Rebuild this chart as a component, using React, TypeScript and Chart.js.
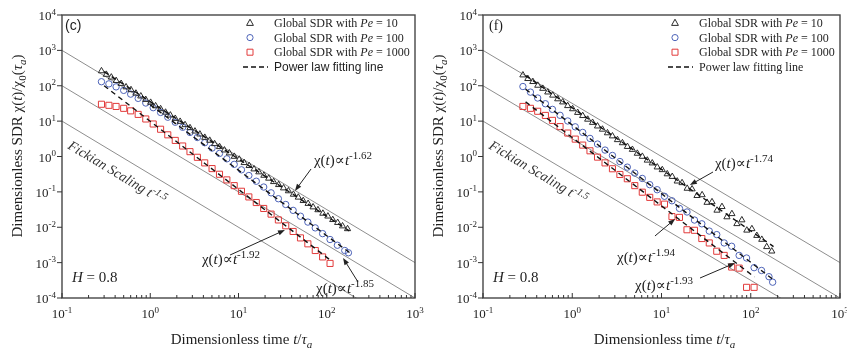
import React, { useEffect, useRef } from "react";
import { Chart, registerables } from "chart.js";

Chart.register(...registerables);

const SERIF = '"Liberation Serif", "DejaVu Serif", "Times New Roman", serif';
const SANS = '"Liberation Sans", Arial, sans-serif';

// ---------- time samples (dimensionless time t / tau_a) ----------
const T_DENSE = [
  0.28, 0.318, 0.362, 0.411, 0.468, 0.532, 0.605, 0.688, 0.782, 0.889, 1.01, 1.15, 1.31, 1.49, 1.69,
  1.92, 2.18, 2.48, 2.82, 3.21, 3.65, 4.15, 4.72, 5.36, 6.1, 6.93, 7.88, 8.96, 10.2, 11.6, 13.2, 15.0,
  17.0, 19.4, 22.0, 25.0, 28.5, 32.4, 36.8, 41.9, 47.6, 54.1, 61.5, 70.0, 79.5, 90.4, 103, 117, 133,
  151, 172,
];
const T_SPARSE = [
  0.28, 0.34, 0.41, 0.5, 0.6, 0.73, 0.89, 1.08, 1.31, 1.58, 1.92, 2.33, 2.82, 3.42, 4.14, 5.02, 6.09,
  7.38, 8.94, 10.8, 13.1, 15.9, 19.3, 23.4, 28.3, 34.3, 41.6, 50.4, 61.1, 74.1, 89.8, 109, 132, 160, 176,
];

// ---------- panel (c) ----------
const C_PE10 = [
  262, 208, 174, 139, 115, 92, 76.5, 61, 50.8, 40.5, 33.6, 26.8, 22.2, 17.7, 14.7, 11.8, 9.75, 7.85,
  6.45, 5.18, 4.27, 3.44, 2.84, 2.28, 1.88, 1.51, 1.25, 1.0, 0.83, 0.665, 0.548, 0.44, 0.364, 0.291,
  0.241, 0.193, 0.159, 0.128, 0.106, 0.0848, 0.0702, 0.0562, 0.0466, 0.0372, 0.0309, 0.0246, 0.0205,
  0.0163, 0.0135, 0.0108, 0.009,
];
const C_PE100 = [
  130, 113, 93, 74, 58, 44, 32.5, 24, 17.6, 12.9, 9.3, 6.7, 4.8, 3.45, 2.45, 1.73, 1.22, 0.86, 0.6,
  0.42, 0.29, 0.2, 0.137, 0.094, 0.064, 0.044, 0.03, 0.0205, 0.014, 0.0096, 0.0066, 0.0045, 0.0031,
  0.0022, 0.0019,
];
const C_PE1000 = [
  30, 28, 26, 23, 19.5, 15.5, 11.5, 8.3, 5.9, 4.1, 2.85, 1.98, 1.37, 0.95, 0.66, 0.455, 0.315, 0.218,
  0.15, 0.104, 0.072, 0.05, 0.034, 0.0235, 0.0161, 0.011, 0.0076, 0.005, 0.0034, 0.0022, 0.00145,
  0.00095,
];
const C_FIT_T10 = [0.3, 180];
const C_FIT_Y10 = [250, 0.0079];
const C_FIT_T100 = [1, 190];
const C_FIT_Y100 = [28.9, 0.00176];
const C_FIT_T1000 = [0.3, 110];
const C_FIT_Y1000 = [100, 0.00117];

// ---------- panel (f) ----------
const F_PE10 = [
  200, 158, 130, 102, 83.5, 65.8, 53.6, 42.2, 34.5, 27.1, 22.1, 17.4, 14.2, 11.2, 9.1, 7.2, 5.85, 4.62,
  3.78, 2.96, 2.42, 1.9, 1.57, 1.22, 1.0, 0.78, 0.65, 0.5, 0.42, 0.32, 0.27, 0.2, 0.18, 0.125, 0.12,
  0.078, 0.082, 0.05, 0.052, 0.03, 0.038, 0.0195, 0.024, 0.0125, 0.016, 0.0082, 0.009, 0.0058, 0.0045,
  0.0028, 0.0021,
];
const F_PE100 = [
  95, 66, 45, 31, 21.5, 14.6, 10.1, 6.9, 4.8, 3.25, 2.25, 1.52, 1.07, 0.72, 0.5, 0.34, 0.24, 0.16,
  0.115, 0.075, 0.056, 0.034, 0.027, 0.016, 0.0125, 0.0078, 0.0062, 0.0036, 0.0029, 0.0016, 0.00135,
  0.00072, 0.0006, 0.0004, 0.00028,
];
const F_PE1000 = [
  26, 23, 19, 14.5, 10.5, 7.0, 4.6, 3.1, 2.1, 1.45, 0.96, 0.66, 0.45, 0.31, 0.235, 0.15, 0.098, 0.07,
  0.052, 0.045, 0.02, 0.019, 0.0085, 0.0082, 0.0048, 0.0036, 0.0021, 0.0016, 0.00075, 0.0007, 0.0002,
  0.0002,
];
const F_FIT_T10 = [0.3, 180];
const F_FIT_Y10 = [194, 0.00284];
const F_FIT_T100 = [0.3, 180];
const F_FIT_Y100 = [80, 0.000327];
const F_FIT_T1000 = [0.3, 110];
const F_FIT_Y1000 = [35, 0.000393];

// ---------- Fickian t^-1.5 reference lines ----------
const REF_T = [0.1, 1000];
const REF_Y_HI = [1000, 0.001];
const REF_Y_MID = [100, 0.0001];
const REF_Y_LO = [10, 0.00001];

// ---------- axis ticks ----------
const X_TICKS = [0.1, 1, 10, 100, 1000];
const X_TICK_EXP = ["-1", "0", "1", "2", "3"];
const Y_TICKS = [1e-4, 1e-3, 1e-2, 1e-1, 1, 10, 100, 1000, 10000];
const Y_TICK_EXP = ["-4", "-3", "-2", "-1", "0", "1", "2", "3", "4"];

const LEGEND_PE = ["10", "100", "1000"];

// annotations: text anchor (data coords) and arrow (tail -> head)
const C_NOTES = [
  { exp: "-1.62", t: [71.6, 0.575], from: [66.4, 0.444], to: [43.6, 0.106] },
  { exp: "-1.92", t: [3.85, 0.000914], from: [8.02, 0.00164], to: [33.6, 0.00835] },
  { exp: "-1.85", t: [75.5, 0.000138], from: [226, 0.000283], to: [153, 0.00135] },
];
const F_NOTES = [
  { exp: "-1.74", t: [39.7, 0.473], from: [37.8, 0.365], to: [20.8, 0.156] },
  { exp: "-1.94", t: [3.17, 0.00104], from: [8.45, 0.00566], to: [14.2, 0.0171] },
  { exp: "-1.93", t: [5.05, 0.000168], from: [27, 0.000367], to: [66.7, 0.000975] },
];
const FICK_ANCHOR = [0.114, 1.74];

const COL_TRI = "#2b2b2b";
const COL_CIR = "#4d63b8";
const COL_SQ = "#e23a3a";
const COL_REF = "#8e8e8e";
const COL_TXT = "#1e1e1e";

type Seg = { s: string; it?: boolean; sup?: boolean; sub?: boolean };

function segWidth(ctx: any, segs: Seg[], size: number, fam: string) {
  let w = 0;
  for (const g of segs) {
    const fs = g.sup || g.sub ? Math.round(size * 0.72) : size;
    ctx.font = `${g.it ? "italic " : ""}${fs}px ${fam}`;
    w += ctx.measureText(g.s).width;
  }
  return w;
}
function drawSegs(ctx: any, segs: Seg[], x: number, y: number, size: number, fam: string) {
  let cx = x;
  for (const g of segs) {
    const fs = g.sup || g.sub ? Math.round(size * 0.72) : size;
    ctx.font = `${g.it ? "italic " : ""}${fs}px ${fam}`;
    const dy = g.sup ? -size * 0.42 : g.sub ? size * 0.28 : 0;
    ctx.fillText(g.s, cx, y + dy);
    cx += ctx.measureText(g.s).width;
  }
  return cx - x;
}

function drawMarker(ctx: any, kind: string, x: number, y: number) {
  ctx.beginPath();
  if (kind === "tri") {
    ctx.moveTo(x, y - 3.8);
    ctx.lineTo(x + 3.4, y + 2.4);
    ctx.lineTo(x - 3.4, y + 2.4);
    ctx.closePath();
    ctx.strokeStyle = COL_TRI;
  } else if (kind === "cir") {
    ctx.arc(x, y, 3.1, 0, Math.PI * 2);
    ctx.strokeStyle = COL_CIR;
  } else {
    ctx.rect(x - 3, y - 3, 6, 6);
    ctx.strokeStyle = COL_SQ;
  }
  ctx.lineWidth = 1;
  ctx.stroke();
}

const pts = (t: number[], y: number[]) => y.map((v, i) => ({ x: t[i], y: v }));

function buildConfig(p: any) {
  const fitDs = (t: number[], y: number[]) => ({
    data: pts(t, y),
    showLine: true,
    pointRadius: 0,
    borderColor: "#111",
    borderWidth: 1.4,
    borderDash: [5, 4],
    order: 0,
  });
  const refDs = (y: number[]) => ({
    data: pts(REF_T, y),
    showLine: true,
    pointRadius: 0,
    borderColor: COL_REF,
    borderWidth: 1,
    order: 3,
  });
  const mk = (t: number[], y: number[], style: string, col: string, r: number) => ({
    data: pts(t, y),
    showLine: false,
    pointStyle: style,
    pointRadius: r,
    pointBorderWidth: 1,
    borderColor: col,
    backgroundColor: "rgba(0,0,0,0)",
    order: 1,
  });

  const decor = {
    id: "decor",
    afterDraw(chart: any) {
      const { ctx, chartArea: a } = chart;
      const xs = chart.scales.x;
      const ys = chart.scales.y;
      const X = (v: number) => xs.getPixelForValue(v);
      const Y = (v: number) => ys.getPixelForValue(v);
      ctx.save();
      ctx.fillStyle = COL_TXT;
      ctx.textBaseline = "alphabetic";

      // frame
      ctx.strokeStyle = "#464646";
      ctx.lineWidth = 1.4;
      ctx.strokeRect(a.left, a.top, a.right - a.left, a.bottom - a.top);

      // x ticks
      ctx.lineWidth = 1;
      ctx.strokeStyle = "#333";
      X_TICKS.forEach((v, i) => {
        const px = X(v);
        ctx.beginPath();
        ctx.moveTo(px, a.bottom);
        ctx.lineTo(px, a.bottom - 5);
        ctx.stroke();
        if (i < X_TICKS.length - 1) {
          for (let m = 2; m <= 9; m++) {
            const mx = X(v * m);
            ctx.beginPath();
            ctx.moveTo(mx, a.bottom);
            ctx.lineTo(mx, a.bottom - 3);
            ctx.stroke();
          }
        }
        const segs: Seg[] = [{ s: "10" }, { s: X_TICK_EXP[i], sup: true }];
        const w = segWidth(ctx, segs, 13, SERIF);
        drawSegs(ctx, segs, px - w / 2, a.bottom + 20, 13, SERIF);
      });
      // y ticks
      Y_TICKS.forEach((v, i) => {
        const py = Y(v);
        ctx.beginPath();
        ctx.moveTo(a.left, py);
        ctx.lineTo(a.left - 5, py);
        ctx.stroke();
        const segs: Seg[] = [{ s: "10" }, { s: Y_TICK_EXP[i], sup: true }];
        const w = segWidth(ctx, segs, 13, SERIF);
        drawSegs(ctx, segs, a.left - 6 - w, py + 5, 13, SERIF);
      });

      // axis titles
      const xt: Seg[] = [
        { s: "Dimensionless time " },
        { s: "t", it: true },
        { s: "/" },
        { s: "τ", it: true },
        { s: "a", it: true, sub: true },
      ];
      const xw = segWidth(ctx, xt, 15, SERIF);
      drawSegs(ctx, xt, (a.left + a.right) / 2 + 3 - xw / 2, 344, 15, SERIF);
      const yt: Seg[] = [
        { s: "Dimensionless SDR χ(" },
        { s: "t", it: true },
        { s: ")/χ" },
        { s: "0", sub: true },
        { s: "(" },
        { s: "τ", it: true },
        { s: "a", it: true, sub: true },
        { s: ")" },
      ];
      const yw = segWidth(ctx, yt, 15, SERIF);
      ctx.save();
      ctx.translate(a.left - 40, 146);
      ctx.rotate(-Math.PI / 2);
      drawSegs(ctx, yt, -yw / 2, 0, 15, SERIF);
      ctx.restore();

      // panel label and H
      ctx.font = `14px ${p.labelFont}`;
      ctx.fillText(p.label, a.left + p.labelDx, a.top + 15);
      drawSegs(ctx, [{ s: "H", it: true }, { s: " = 0.8" }], a.left + 10, a.bottom - 16, 15, SERIF);

      // Fickian scaling text along lowest reference line
      const ang = Math.atan2(Y(REF_Y_LO[1]) - Y(REF_Y_LO[0]), X(REF_T[1]) - X(REF_T[0]));
      ctx.save();
      ctx.translate(X(FICK_ANCHOR[0]), Y(FICK_ANCHOR[1]));
      ctx.rotate(ang);
      ctx.fillStyle = "#333";
      drawSegs(
        ctx,
        [{ s: "Fickian Scaling ", it: true }, { s: "t", it: true }, { s: "-1.5", it: true, sup: true }],
        0,
        0,
        14,
        SERIF
      );
      ctx.restore();

      // annotations with arrows
      p.notes.forEach((n: any) => {
        drawSegs(
          ctx,
          [{ s: "χ(" }, { s: "t", it: true }, { s: ")∝" }, { s: "t", it: true }, { s: n.exp, sup: true }],
          X(n.t[0]),
          Y(n.t[1]),
          15,
          SERIF
        );
        const x1 = X(n.from[0]);
        const y1 = Y(n.from[1]);
        const x2 = X(n.to[0]);
        const y2 = Y(n.to[1]);
        const an = Math.atan2(y2 - y1, x2 - x1);
        ctx.strokeStyle = "#222";
        ctx.lineWidth = 1;
        ctx.beginPath();
        ctx.moveTo(x1, y1);
        ctx.lineTo(x2 - 5 * Math.cos(an), y2 - 5 * Math.sin(an));
        ctx.stroke();
        ctx.beginPath();
        ctx.moveTo(x2, y2);
        ctx.lineTo(x2 - 7 * Math.cos(an) + 2.6 * Math.sin(an), y2 - 7 * Math.sin(an) - 2.6 * Math.cos(an));
        ctx.lineTo(x2 - 7 * Math.cos(an) - 2.6 * Math.sin(an), y2 - 7 * Math.sin(an) + 2.6 * Math.cos(an));
        ctx.closePath();
        ctx.fillStyle = "#222";
        ctx.fill();
      });

      // legend
      ctx.fillStyle = COL_TXT;
      const kinds = ["tri", "cir", "sq"];
      LEGEND_PE.forEach((pe, i) => {
        const cy = a.top + 8 + i * 14.6;
        drawMarker(ctx, kinds[i], a.right - 165, cy);
        ctx.fillStyle = COL_TXT;
        drawSegs(
          ctx,
          [{ s: "Global SDR with " }, { s: "Pe", it: true }, { s: " = " + pe }],
          a.right - 141,
          cy + 4,
          12,
          SERIF
        );
      });
      const ly = a.top + 52;
      ctx.strokeStyle = "#111";
      ctx.lineWidth = 1.4;
      ctx.setLineDash([5, 3]);
      ctx.beginPath();
      ctx.moveTo(a.right - 172, ly);
      ctx.lineTo(a.right - 147, ly);
      ctx.stroke();
      ctx.setLineDash([]);
      ctx.font = `12px ${p.fitFont}`;
      ctx.fillText("Power law fitting line", a.right - 141, ly + 4);

      ctx.restore();
    },
  };

  return {
    type: "scatter",
    data: {
      datasets: [
        fitDs(p.fitT10, p.fitY10),
        fitDs(p.fitT100, p.fitY100),
        fitDs(p.fitT1000, p.fitY1000),
        mk(T_DENSE, p.pe10, "triangle", COL_TRI, 3.6),
        mk(T_SPARSE, p.pe100, "circle", COL_CIR, 3.2),
        mk(T_SPARSE, p.pe1000, "rect", COL_SQ, 4.3),
        refDs(REF_Y_HI),
        refDs(REF_Y_MID),
        refDs(REF_Y_LO),
      ],
    },
    options: {
      animation: false,
      responsive: false,
      devicePixelRatio: 1,
      events: [],
      layout: { padding: { top: 15, right: p.padRight, bottom: 0, left: 0 } },
      plugins: { legend: { display: false }, tooltip: { enabled: false }, title: { display: false } },
      scales: {
        x: {
          type: "logarithmic",
          min: 0.1,
          max: 1000,
          ticks: { display: false },
          grid: { display: false },
          border: { display: false },
          afterFit: (s: any) => {
            s.height = 54;
          },
        },
        y: {
          type: "logarithmic",
          min: 1e-4,
          max: 1e4,
          ticks: { display: false },
          grid: { display: false },
          border: { display: false },
          afterFit: (s: any) => {
            s.width = p.yWidth;
          },
        },
      },
    },
    plugins: [decor],
  };
}

const PANEL_C = {
  label: "(c)",
  labelFont: SANS,
  labelDx: 3,
  fitFont: SANS,
  yWidth: 62,
  padRight: 17,
  pe10: C_PE10,
  pe100: C_PE100,
  pe1000: C_PE1000,
  fitT10: C_FIT_T10,
  fitY10: C_FIT_Y10,
  fitT100: C_FIT_T100,
  fitY100: C_FIT_Y100,
  fitT1000: C_FIT_T1000,
  fitY1000: C_FIT_Y1000,
  notes: C_NOTES,
};
const PANEL_F = {
  label: "(f)",
  labelFont: SERIF,
  labelDx: 6,
  fitFont: SERIF,
  yWidth: 60,
  padRight: 7,
  pe10: F_PE10,
  pe100: F_PE100,
  pe1000: F_PE1000,
  fitT10: F_FIT_T10,
  fitY10: F_FIT_Y10,
  fitT100: F_FIT_T100,
  fitY100: F_FIT_Y100,
  fitT1000: F_FIT_T1000,
  fitY1000: F_FIT_Y1000,
  notes: F_NOTES,
};

function Panel({ cfg, left, width }: any) {
  const ref = useRef<HTMLCanvasElement | null>(null);
  useEffect(() => {
    const chart = new Chart(ref.current as any, buildConfig(cfg) as any);
    return () => chart.destroy();
  }, []);
  return (
    <canvas
      ref={ref}
      width={width}
      height={352}
      style={{ position: "absolute", left, top: 0, width, height: 352 }}
    />
  );
}

export default function App() {
  return (
    <div
      style={{
        position: "fixed",
        left: 0,
        top: 0,
        width: 847,
        height: 352,
        background: "#fff",
        overflow: "hidden",
      }}
    >
      <Panel cfg={PANEL_C} left={0} width={432} />
      <Panel cfg={PANEL_F} left={423} width={424} />
    </div>
  );
}
